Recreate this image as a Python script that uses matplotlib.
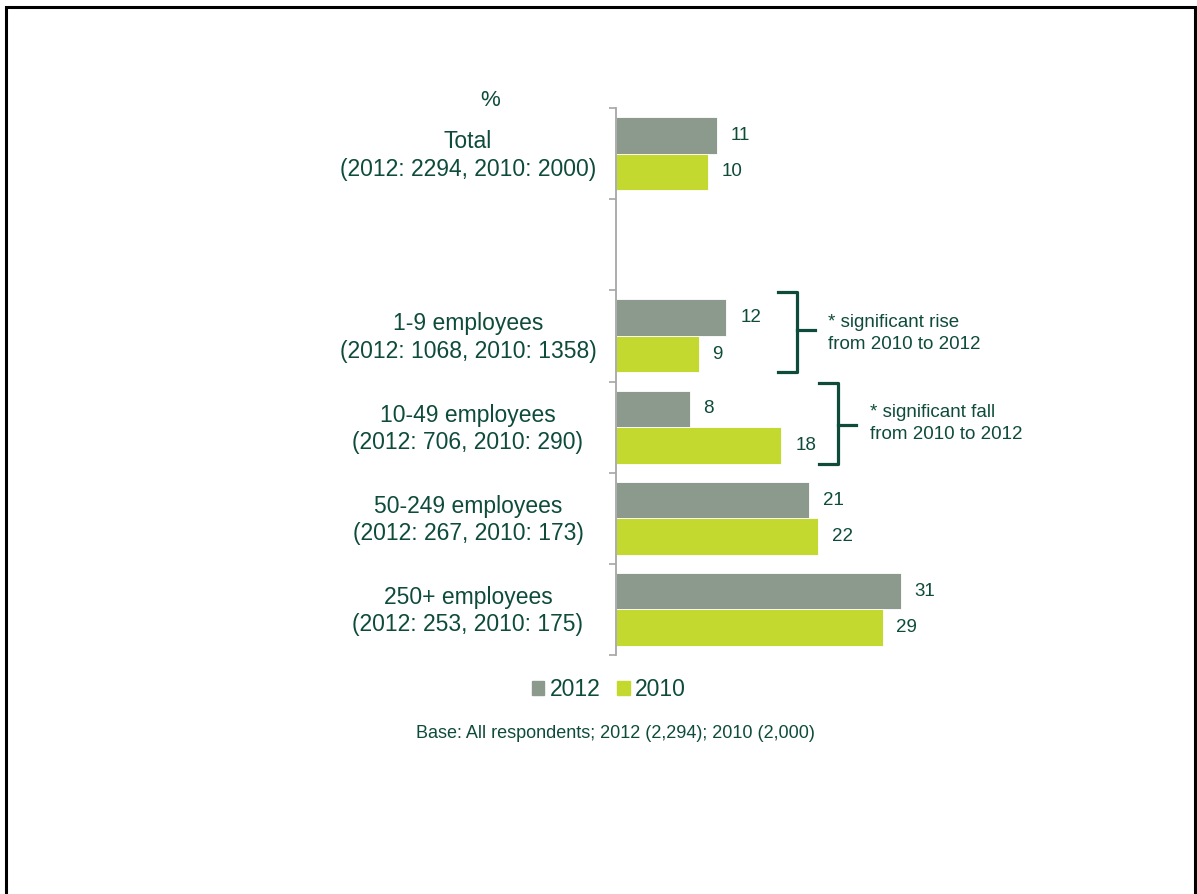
import matplotlib.pyplot as plt
from matplotlib.patches import Rectangle
from matplotlib.lines import Line2D

plt.rcParams['font.family'] = ['Liberation Sans', 'DejaVu Sans']

# data
groups = ["Total", "", "1-9 employees", "10-49 employees", "50-249 employees", "250+ employees"]
bases = ["(2012: 2294, 2010: 2000)", "", "(2012: 1068, 2010: 1358)",
         "(2012: 706, 2010: 290)", "(2012: 267, 2010: 173)", "(2012: 253, 2010: 175)"]
vals_2012 = [11, None, 12, 8, 21, 31]
vals_2010 = [10, None, 9, 18, 22, 29]
notes = {2: "* significant rise\nfrom 2010 to 2012",
         3: "* significant fall\nfrom 2010 to 2012"}
base_note = "Base: All respondents; 2012 (2,294); 2010 (2,000)"

GREY = '#8C9A8E'
LIME = '#C3D92F'
TXT = '#0E4B3A'
W, H = 1197, 894

fig = plt.figure(figsize=(W / 100, H / 100), dpi=100)

def fx(px):
    return px / W

def fy(py):
    return 1 - py / H

# slide border
fig.patches.append(Rectangle((fx(6), fy(910)), fx(1195) - fx(6), fy(7) - fy(910),
                             transform=fig.transFigure, fill=False, lw=2.2, ec='black'))

ax_left, ax_top, ax_bot = 616, 108, 655
x_max = 40
px_per_unit = 9.19
ax = fig.add_axes([fx(ax_left), fy(ax_bot), x_max * px_per_unit / W, (ax_bot - ax_top) / H])
ax.set_xlim(0, x_max)
ax.set_ylim(len(groups) - 0.5, -0.5)

bh = 0.4
for i in range(len(groups)):
    if vals_2012[i] is None:
        continue
    ax.barh(i - bh / 2, vals_2012[i], height=bh, color=GREY, ec='white', lw=0.6)
    ax.barh(i + bh / 2, vals_2010[i], height=bh, color=LIME, ec='white', lw=0.6)
    ax.annotate(str(vals_2012[i]), (vals_2012[i], i - bh / 2), xytext=(10, 0),
                textcoords='offset points', va='center', ha='left', fontsize=13.5, color=TXT)
    ax.annotate(str(vals_2010[i]), (vals_2010[i], i + bh / 2), xytext=(10, 0),
                textcoords='offset points', va='center', ha='left', fontsize=13.5, color=TXT)

# axis styling
for s in ['top', 'right', 'bottom']:
    ax.spines[s].set_visible(False)
ax.spines['left'].set_color('#A6A6A6')
ax.spines['left'].set_linewidth(1.3)
ax.set_xticks([])
ax.set_yticks([i - 0.5 for i in range(len(groups) + 1)])
ax.set_yticklabels([])
ax.tick_params(axis='y', length=5, width=1.2, color='#A6A6A6', direction='out')

# category labels
for i, (g, b) in enumerate(zip(groups, bases)):
    if not g:
        continue
    ax.text((468 - ax_left) / (x_max * px_per_unit), i + 0.02, g + "\n" + b,
            transform=ax.get_yaxis_transform(), ha='center', va='center',
            fontsize=16.5, color=TXT, linespacing=1.25)

fig.text(fx(490), fy(100), "%", ha='center', va='center', fontsize=16, color=TXT)

# brackets with notes
bracket_x = {2: 19.7, 3: 24.2}
nub_off = {2: -0.07, 3: -0.02}
text_off = {2: -0.03, 3: -0.04}
for i, note in notes.items():
    bx = bracket_x[i]
    top, bot = i - 0.48, i + 0.4
    mid = i + nub_off[i]
    ax.add_line(Line2D([bx - 2.1, bx, bx, bx - 2.1], [top, top, bot, bot],
                       color=TXT, lw=2.3, clip_on=False))
    ax.add_line(Line2D([bx, bx + 1.9], [mid, mid], color=TXT, lw=2.3, clip_on=False))
    ax.text(bx + 3.4, i + text_off[i], note, ha='left', va='center', fontsize=13.5,
            color=TXT, linespacing=1.4)

# legend
handles = [Rectangle((0, 0), 1, 1, color=GREY), Rectangle((0, 0), 1, 1, color=LIME)]
fig.legend(handles, ["2012", "2010"], loc='center', bbox_to_anchor=(fx(609), fy(690)),
           ncol=2, frameon=False, fontsize=16.5, handlelength=0.55, handleheight=0.55,
           handletextpad=0.25, columnspacing=0.7, labelcolor=TXT)

fig.text(fx(615), fy(733), base_note, ha='center', va='center', fontsize=13, color=TXT)

fig.savefig("out.png", dpi=100)
